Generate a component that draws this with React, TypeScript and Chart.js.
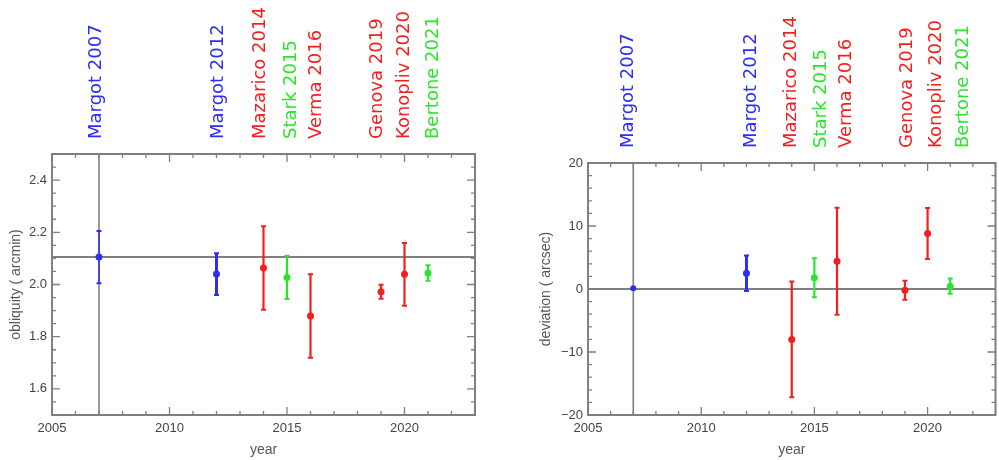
import React, { useEffect, useRef } from "react";
import { Chart, registerables } from "chart.js";

Chart.register(...registerables);

// ---------- data ----------
const years = [2007, 2012, 2014, 2015, 2016, 2019, 2020, 2021];
const studies = [
  "Margot 2007",
  "Margot 2012",
  "Mazarico 2014",
  "Stark 2015",
  "Verma 2016",
  "Genova 2019",
  "Konopliv 2020",
  "Bertone 2021",
];
const groups = ["blue", "blue", "red", "green", "red", "red", "red", "green"];

const obliquity = [2.105, 2.04, 2.063, 2.027, 1.879, 1.972, 2.039, 2.044];
const obliquityErr = [0.1, 0.08, 0.16, 0.083, 0.16, 0.027, 0.12, 0.03];
const obliquityRef = 2.105;

const deviation = [0.1, 2.5, -8.0, 1.8, 4.4, -0.2, 8.8, 0.45];
const deviationErr = [0, 2.8, 9.2, 3.1, 8.5, 1.5, 4.05, 1.2];
const deviationRef = 0;

const referenceYear = 2007;
const xTicks = [2005, 2010, 2015, 2020];
const obliquityTicks = [1.6, 1.8, 2.0, 2.2, 2.4];
const deviationTicks = [-20, -10, 0, 10, 20];

// where each study's caption sits along the year axis
const captionYearsLeft = [2006.88, 2012.09, 2013.85, 2015.17, 2016.24, 2018.85, 2020.0, 2021.24];
const captionYearsRight = [2006.76, 2012.22, 2014.0, 2015.3, 2016.4, 2019.1, 2020.37, 2021.6];

// ---------- styling ----------
const FONT = "'Liberation Sans', Arial, Helvetica, sans-serif";
const palette: Record<string, string> = {
  blue: "rgb(45,45,245)",
  red: "rgb(245,30,30)",
  green: "rgb(45,228,45)",
};
const AXIS = "#7f7f7f";

type Panel = {
  values: number[];
  errors: number[];
  ref: number;
  yMin: number;
  yMax: number;
  yMajor: number;
  yMinor: number;
  yTicks: number[];
  yTitle: string;
  fmt: (v: number) => string;
  captions: number[];
  barWidths: number[];
  radii: number[];
  padTop: number;
  padRight: number;
  yWidth: number;
  yTitlePad: number;
};

const leftPanel: Panel = {
  values: obliquity,
  errors: obliquityErr,
  ref: obliquityRef,
  yMin: 1.5,
  yMax: 2.5,
  yMajor: 0.2,
  yMinor: 0.05,
  yTicks: obliquityTicks,
  yTitle: "obliquity ( arcmin)",
  fmt: (v) => v.toFixed(1),
  captions: captionYearsLeft,
  barWidths: [1.5, 3, 2.2, 2.2, 2.2, 2.2, 2.2, 2.2],
  radii: [3.5, 3.5, 3.5, 3.5, 3.5, 3.5, 3.5, 3.5],
  padTop: 154,
  padRight: 25,
  yWidth: 52,
  yTitlePad: 8,
};

const rightPanel: Panel = {
  values: deviation,
  errors: deviationErr,
  ref: deviationRef,
  yMin: -20,
  yMax: 20,
  yMajor: 10,
  yMinor: 2,
  yTicks: deviationTicks,
  yTitle: "deviation ( arcsec)",
  fmt: (v) => (v < 0 ? "\u2212" + Math.abs(v) : String(v)),
  captions: captionYearsRight,
  barWidths: [1.5, 3, 2.2, 2.2, 2.2, 2.2, 2.2, 2.2],
  radii: [3, 3.5, 3.5, 3.5, 3.5, 3.5, 3.5, 3.5],
  padTop: 163,
  padRight: 2,
  yWidth: 88,
  yTitlePad: 38,
};

function makePanelPlugin(p: Panel) {
  return {
    id: "panelDecor",
    beforeDatasetsDraw(chart: any) {
      const { ctx, chartArea: a } = chart;
      const x = chart.scales.x;
      const y = chart.scales.y;
      ctx.save();
      ctx.strokeStyle = AXIS;
      ctx.lineWidth = 2;
      const ry = y.getPixelForValue(p.ref);
      ctx.beginPath();
      ctx.moveTo(a.left, ry);
      ctx.lineTo(a.right, ry);
      ctx.stroke();
      ctx.lineWidth = 1.6;
      const rx = x.getPixelForValue(referenceYear);
      ctx.beginPath();
      ctx.moveTo(rx, a.top);
      ctx.lineTo(rx, a.bottom);
      ctx.stroke();

      years.forEach((yr, i) => {
        const e = p.errors[i];
        if (!e) return;
        const px = x.getPixelForValue(yr);
        const t = y.getPixelForValue(p.values[i] + e);
        const b = y.getPixelForValue(p.values[i] - e);
        ctx.strokeStyle = palette[groups[i]];
        ctx.lineWidth = p.barWidths[i];
        ctx.beginPath();
        ctx.moveTo(px, t);
        ctx.lineTo(px, b);
        ctx.stroke();
        ctx.lineWidth = 2;
        ctx.beginPath();
        ctx.moveTo(px - 2.5, t);
        ctx.lineTo(px + 2.5, t);
        ctx.moveTo(px - 2.5, b);
        ctx.lineTo(px + 2.5, b);
        ctx.stroke();
      });
      ctx.restore();
    },
    afterDraw(chart: any) {
      const { ctx, chartArea: a } = chart;
      const x = chart.scales.x;
      const y = chart.scales.y;
      ctx.save();
      // frame
      ctx.strokeStyle = AXIS;
      ctx.lineWidth = 2;
      ctx.strokeRect(a.left, a.top, a.right - a.left, a.bottom - a.top);
      // x ticks (inward, bottom & top)
      ctx.lineWidth = 1.3;
      ctx.beginPath();
      for (let v = x.min; v <= x.max + 1e-9; v += 1) {
        const px = x.getPixelForValue(v);
        const len = Math.abs(v % 5) < 1e-9 ? 8 : 4;
        ctx.moveTo(px, a.bottom);
        ctx.lineTo(px, a.bottom - len);
        ctx.moveTo(px, a.top);
        ctx.lineTo(px, a.top + len);
      }
      // y ticks (inward, left & right)
      const n = Math.round((p.yMax - p.yMin) / p.yMinor);
      for (let i = 0; i <= n; i++) {
        const v = p.yMin + i * p.yMinor;
        const r = v / p.yMajor;
        const len = Math.abs(r - Math.round(r)) < 1e-6 ? 8 : 4;
        const py = y.getPixelForValue(v);
        ctx.moveTo(a.left, py);
        ctx.lineTo(a.left + len, py);
        ctx.moveTo(a.right, py);
        ctx.lineTo(a.right - len, py);
      }
      ctx.stroke();

      // study captions
      ctx.font = "18px 'DejaVu Sans', 'Noto Sans', sans-serif";
      ctx.textAlign = "left";
      ctx.textBaseline = "middle";
      studies.forEach((s, i) => {
        const px = x.getPixelForValue(p.captions[i]);
        ctx.save();
        ctx.translate(px, a.top - 15);
        ctx.rotate(-Math.PI / 2);
        ctx.fillStyle = palette[groups[i]];
        ctx.fillText(s, 0, 0);
        ctx.restore();
      });
      ctx.restore();
    },
  };
}

function buildConfig(p: Panel): any {
  return {
    type: "scatter",
    data: {
      datasets: [
        {
          data: years.map((yr, i) => ({ x: yr, y: p.values[i] })),
          pointBackgroundColor: groups.map((g) => palette[g]),
          pointBorderWidth: 0,
          pointRadius: p.radii,
          pointHoverRadius: p.radii,
        },
      ],
    },
    options: {
      responsive: false,
      animation: false,
      events: [],
      layout: { padding: { top: p.padTop, right: p.padRight, left: 0, bottom: 0 } },
      plugins: { legend: { display: false }, tooltip: { enabled: false } },
      scales: {
        x: {
          type: "linear",
          min: 2005,
          max: 2023,
          afterBuildTicks: (s: any) => {
            s.ticks = xTicks.map((v) => ({ value: v }));
          },
          afterFit: (s: any) => {
            s.height = 45;
          },
          grid: { display: false, drawTicks: false },
          border: { display: false },
          ticks: {
            padding: 6,
            autoSkip: false,
            maxRotation: 0,
            color: "#444",
            font: { size: 13, family: FONT },
            callback: (v: number) => String(v),
          },
          title: {
            display: true,
            text: "year",
            color: "#555",
            font: { size: 14, family: FONT },
            padding: { top: 0, bottom: 1 },
          },
        },
        y: {
          type: "linear",
          min: p.yMin,
          max: p.yMax,
          afterBuildTicks: (s: any) => {
            s.ticks = p.yTicks.map((v) => ({ value: v }));
          },
          afterFit: (s: any) => {
            s.width = p.yWidth;
          },
          grid: { display: false, drawTicks: false },
          border: { display: false },
          ticks: {
            padding: 5,
            autoSkip: false,
            color: "#444",
            font: { size: 13, family: FONT },
            callback: (v: number) => p.fmt(Number(v)),
          },
          title: {
            display: true,
            text: p.yTitle,
            color: "#555",
            font: { size: 14, family: FONT },
            padding: { top: p.yTitlePad, bottom: 0 },
          },
        },
      },
    },
    plugins: [makePanelPlugin(p)],
  };
}

export default function App() {
  const leftRef = useRef<HTMLCanvasElement>(null);
  const rightRef = useRef<HTMLCanvasElement>(null);

  useEffect(() => {
    document.body.style.margin = "0";
    const c1 = new Chart(leftRef.current as HTMLCanvasElement, buildConfig(leftPanel));
    const c2 = new Chart(rightRef.current as HTMLCanvasElement, buildConfig(rightPanel));
    return () => {
      c1.destroy();
      c2.destroy();
    };
  }, []);

  return (
    <div style={{ position: "relative", width: 999, height: 460, background: "#fff" }}>
      <canvas
        ref={leftRef}
        width={500}
        height={460}
        style={{ position: "absolute", left: 0, top: 0, width: 500, height: 460 }}
      />
      <canvas
        ref={rightRef}
        width={499}
        height={460}
        style={{ position: "absolute", left: 500, top: 0, width: 499, height: 460 }}
      />
    </div>
  );
}
